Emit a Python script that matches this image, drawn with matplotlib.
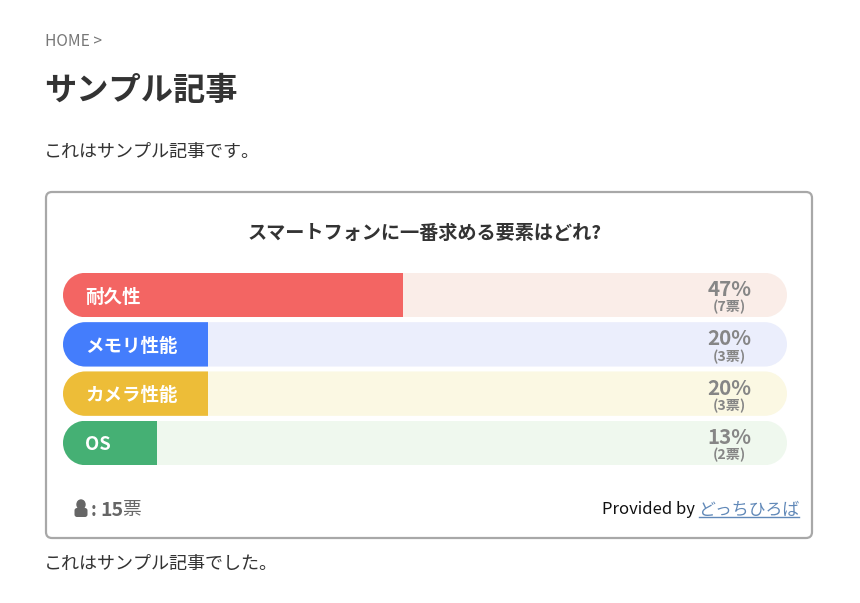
import matplotlib
matplotlib.use('Agg')
import matplotlib.pyplot as plt
from matplotlib.patches import FancyBboxPatch, Ellipse
from matplotlib.path import Path
from matplotlib.transforms import IdentityTransform

plt.rcParams['font.family'] = ['Noto Sans CJK JP', 'DejaVu Sans']

W, H = 860, 603

categories = ['耐久性', 'メモリ性能', 'カメラ性能', 'OS']
percents = [47, 20, 20, 13]
votes = [7, 3, 3, 2]
total_votes = 15
bar_colors = ['#f36563', '#447dfc', '#edbd38', '#45b074']
track_colors = ['#faede8', '#ebeefc', '#fbf8e3', '#eff8ee']
question = 'スマートフォンに一番求める要素はどれ?'


def rounded_box(x, y, w, h, radius, **kwargs):
    return FancyBboxPatch((x + radius, y + radius), w - 2 * radius, h - 2 * radius,
                          boxstyle=f'round,pad={radius},rounding_size={radius}', **kwargs)


def pill_path(x0, y0, x1, y1):
    # FancyBboxPatch corners are too square for a full pill, so use true arcs
    r = (y1 - y0) / 2
    cy = (y0 + y1) / 2
    right = Path.arc(-90, 90)
    left = Path.arc(90, 270)
    verts = [(x1 - r + r * vx, cy + r * vy) for vx, vy in right.vertices]
    verts += [(x0 + r + r * vx, cy + r * vy) for vx, vy in left.vertices]
    codes = list(right.codes) + [Path.LINETO] + list(left.codes[1:])
    verts.append(verts[0])
    codes.append(Path.CLOSEPOLY)
    return Path(verts, codes)


fig = plt.figure(figsize=(W / 100, H / 100), dpi=100, facecolor='white')

# page layer in pixel coordinates
page = fig.add_axes([0, 0, 1, 1])
page.set_xlim(0, W)
page.set_ylim(H, 0)
page.axis('off')

page.text(45, 41.5, 'HOME >', fontsize=11.2, color='#777777', va='center')
page.text(44.5, 90.5, 'サンプル記事', fontsize=23.2, fontweight='bold', color='#333333', va='center')
page.text(43.8, 152, 'これはサンプル記事です。', fontsize=13, color='#333333', va='center')
page.text(43.8, 564, 'これはサンプル記事でした。', fontsize=13, color='#333333', va='center')

page.add_patch(rounded_box(46, 192, 766, 346, 6, facecolor='white', edgecolor='#a8a8a8', linewidth=1.6))
page.text(425, 233.5, question, fontsize=13.8, fontweight='bold', color='#333333', ha='center', va='center')

# person icon
page.add_patch(Ellipse((81, 504.5), 8, 9, color='#666666'))
page.add_patch(rounded_box(74.5, 508, 13, 9, 2.5, color='#666666', linewidth=0))
page.text(91, 510, ':', fontsize=13, fontweight='bold', color='#666666', va='center')
page.text(100, 510, str(total_votes), fontsize=14, fontweight='bold', color='#666666', va='center')
page.text(122, 510, '票', fontsize=13.5, color='#666666', va='center')

page.text(602, 510, 'Provided by', fontsize=12, color='#111111', va='center')
page.text(698.5, 510, 'どっちひろば', fontsize=12.2, color='#6088b8', va='center')
page.plot([699, 799], [516.5, 516.5], color='#6088b8', linewidth=1)

# bars
ax = fig.add_axes([63 / W, 1 - 467.6 / H, 724 / W, 197.2 / H])
ax.set_xlim(0, 100)
ax.set_ylim(len(categories) - 0.5, -0.5)
ax.axis('off')
ax.patch.set_alpha(0)

ypos = list(range(len(categories)))
tracks = ax.barh(ypos, [100] * len(categories), height=0.9, color=track_colors)
fills = ax.barh(ypos, percents, height=0.9, color=bar_colors)

# round the ends of each row
renderer = fig.canvas.get_renderer()
for track, fill in zip(tracks, fills):
    px = track.get_window_extent(renderer)
    clip = pill_path(px.x0, px.y0, px.x1, px.y1)
    track.set_clip_path(clip, IdentityTransform())
    fill.set_clip_path(clip, IdentityTransform())

for y, name, pct, n in zip(ypos, categories, percents, votes):
    ax.text(3.1, y + 0.04, name, fontsize=13.3, fontweight='bold', color='white', va='center')
    ax.text(92.05, y - 0.11, f'{pct}%', fontsize=14.8, fontweight='bold', color='#868686',
            ha='center', va='center')
    ax.text(92.05, y + 0.25, f'({n}票)', fontsize=10.2, fontweight='bold', color='#868686',
            ha='center', va='center')

fig.savefig('out.png', dpi=100)
